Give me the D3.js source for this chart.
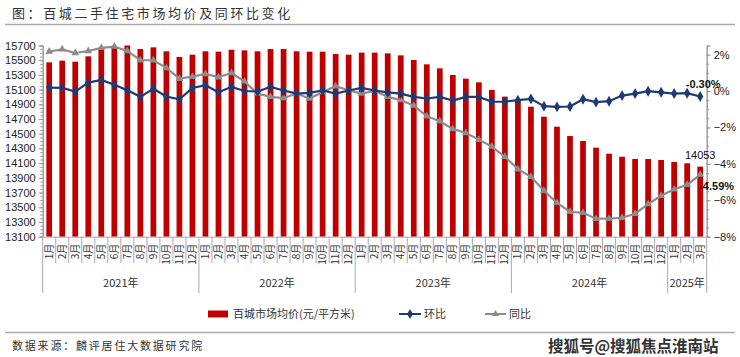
<!DOCTYPE html>
<html><head><meta charset="utf-8">
<script src="https://cdn.jsdelivr.net/npm/d3@7"></script>
<style>
html,body{margin:0;padding:0;background:#fff;}
svg{display:block;}
</style></head>
<body>
<svg id="chart" width="740" height="357"></svg>
<script>
const years = ["2021年","2022年","2023年","2024年","2025年"];
const monthsPerYear = [12,12,12,12,3];
const monthLabels = ["1月","2月","3月","4月","5月","6月","7月","8月","9月","10月","11月","12月"];
const price = [
  15471,15494,15480,15553,15662,15695,15700,15652,15675,15621,15544,15575,
  15621,15616,15643,15634,15621,15652,15652,15621,15616,15616,15584,15575,
  15603,15603,15593,15566,15503,15444,15389,15299,15249,15199,15095,15004,
  14959,14868,14732,14596,14469,14401,14311,14229,14188,14157,14157,14143,
  14116,14098,14053
];
const mom = [
  0.19,0.17,-0.03,0.46,0.61,0.35,0.04,-0.32,0.12,-0.30,-0.45,0.17,
  0.32,-0.07,0.23,0.00,-0.03,0.23,0.03,-0.14,-0.10,0.03,-0.14,0.03,
  0.17,0.03,-0.07,-0.14,-0.32,-0.41,-0.32,-0.52,-0.32,-0.32,-0.59,-0.58,
  -0.50,-0.43,-0.83,-0.87,-0.85,-0.45,-0.61,-0.56,-0.25,-0.14,-0.01,-0.07,
  -0.14,-0.12,-0.30
];
const yoy = [
  2.17,2.29,2.09,2.20,2.37,2.44,2.20,1.69,1.69,1.27,0.68,0.79,
  0.94,0.76,0.99,0.53,-0.14,-0.32,-0.39,-0.14,-0.41,-0.05,0.26,0.04,
  -0.14,0.01,-0.32,-0.50,-0.80,-1.38,-1.66,-2.08,-2.30,-2.67,-3.05,-3.61,
  -4.29,-4.71,-5.48,-6.14,-6.63,-6.69,-7.01,-7.01,-6.96,-6.74,-6.21,-5.75,
  -5.40,-5.15,-4.59
];
const leftTicks = d3.range(13100, 15701, 200);
const rightTicks = [2,0,-2,-4,-6,-8];
const labels = {last:"14053", mom:"-0.30%", yoy:"-4.59%"};
const titleText = "图：百城二手住宅市场均价及同环比变化";
const sourceText = "数据来源：麟评居住大数据研究院";
const watermark = "搜狐号@搜狐焦点淮南站";
const legendNames = ["百城市场均价(元/平方米)","环比","同比"];

// categories
const cats = [];
years.forEach((y,yi)=>{ for(let m=0;m<monthsPerYear[yi];m++) cats.push({year:y, yi, month:monthLabels[m]}); });
const idx = cats.map((c,i)=>i);

const svg = d3.select("#chart");
const L = 42.7, R = 706.7, T = 45.5, B = 236.7;
const font = "'Liberation Sans', Arial, sans-serif";
const cjk = "'Noto Sans CJK SC', sans-serif";

const x = d3.scaleBand().domain(idx).range([L,R]).paddingInner(0.56).paddingOuter(0.28);
const yL = d3.scaleLinear().domain([13100,15700]).range([B,T]);
const yR = d3.scaleLinear().domain([-8,2.5]).range([B,T]);
const cx = i => x(i) + x.bandwidth()/2;
const step = x.step();

// title
svg.append("text").attr("x",12).attr("y",18).text(titleText)
  .attr("font-family",cjk).attr("font-size",13).attr("letter-spacing",2.6).attr("fill","#333");
svg.append("line").attr("x1",5).attr("x2",735).attr("y1",24.5).attr("y2",24.5).attr("stroke","#aaa").attr("stroke-width",1.5);
svg.append("line").attr("x1",5).attr("x2",735).attr("y1",332.5).attr("y2",332.5).attr("stroke","#aaa").attr("stroke-width",1.5);
svg.append("text").attr("x",12).attr("y",350).text(sourceText)
  .attr("font-family",cjk).attr("font-size",11).attr("letter-spacing",1.8).attr("fill","#333");
svg.append("text").attr("x",548).attr("y",352).text(watermark)
  .attr("font-family",cjk).attr("font-size",15.5).attr("font-weight","bold").attr("fill","#333")
  .attr("stroke","#fff").attr("stroke-width",0.6).attr("paint-order","stroke");

// bars
svg.append("g").selectAll("rect").data(price).join("rect")
  .attr("x",(d,i)=>x(i)).attr("width",x.bandwidth())
  .attr("y",d=>yL(d)).attr("height",d=>B-yL(d)).attr("fill","#C00000");

// left axis
const gL = svg.append("g").attr("transform",`translate(${L},0)`)
  .call(d3.axisLeft(yL).tickValues(leftTicks).tickSize(4).tickPadding(3).tickFormat(d3.format("d")));
const gLm = svg.append("g").attr("transform",`translate(${L},0)`)
  .call(d3.axisLeft(yL).tickValues(d3.range(13100,15701,50)).tickSize(2.5).tickFormat(""));
// right axis
const gR = svg.append("g").attr("transform",`translate(${R},0)`)
  .call(d3.axisRight(yR).tickValues(rightTicks).tickSize(4).tickPadding(3).tickFormat(d=>(d<0?"\u2212":"")+Math.abs(d)+"%"));
const gRm = svg.append("g").attr("transform",`translate(${R},0)`)
  .call(d3.axisRight(yR).tickValues(d3.range(-8,2.51,0.5)).tickSize(2.5).tickFormat(""));
[gL,gLm,gR,gRm].forEach(g=>{
  g.select(".domain").attr("stroke","#999");
  g.selectAll(".tick line").attr("stroke","#999");
  g.selectAll("text").attr("font-family",font).attr("font-size",11).attr("fill","#222");
});

// category axis
const gx = svg.append("g");
gx.append("line").attr("x1",L).attr("x2",R).attr("y1",B+0.5).attr("y2",B+0.5).attr("stroke","#aaa");
idx.forEach(i=>{
  const xb = L + i*step;
  const isYear = i===0 || cats[i].yi!==cats[i-1].yi;
  gx.append("line").attr("x1",xb).attr("x2",xb).attr("y1",B).attr("y2",isYear?293:263).attr("stroke","#aaa");
});
gx.append("line").attr("x1",R).attr("x2",R).attr("y1",B).attr("y2",293).attr("stroke","#aaa");
gx.selectAll("text.m").data(cats).join("text").attr("class","m")
  .attr("transform",(d,i)=>`translate(${cx(i)+3.5},${B+7}) rotate(-90)`)
  .attr("text-anchor","end").attr("font-family",cjk).attr("font-size",10).attr("fill","#333")
  .text(d=>d.month);
let start=0;
years.forEach((y,yi)=>{
  const n = monthsPerYear[yi];
  const xm = L + (start + n/2)*step;
  gx.append("text").attr("x",xm).attr("y",287).attr("text-anchor","middle")
    .attr("font-family",cjk).attr("font-size",11).attr("fill","#333").text(y);
  start += n;
});

// lines
const navy = "#1F3A73", gray = "#8C8C8C";
const lineR = d3.line().x((d,i)=>cx(i)).y(d=>yR(d));
svg.append("path").datum(yoy).attr("d",lineR).attr("fill","none").attr("stroke",gray).attr("stroke-width",2.2);
svg.append("g").selectAll("path").data(yoy).join("path")
  .attr("d",d3.symbol(d3.symbolTriangle,26)).attr("transform",(d,i)=>`translate(${cx(i)},${yR(d)})`).attr("fill",gray);
svg.append("path").datum(mom).attr("d",lineR).attr("fill","none").attr("stroke",navy).attr("stroke-width",2.2);
svg.append("g").selectAll("path").data(mom).join("path")
  .attr("d",d3.symbol(d3.symbolDiamond,34)).attr("transform",(d,i)=>`translate(${cx(i)},${yR(d)})`).attr("fill",navy);

// data labels
const li = price.length-1;
svg.append("text").attr("x",cx(li)).attr("y",yL(price[li])-8).attr("text-anchor","middle")
  .attr("font-family",font).attr("font-size",11).attr("fill","#111").text(labels.last);
svg.append("text").attr("x",cx(li)+3).attr("y",yR(mom[li])-8).attr("text-anchor","middle")
  .attr("font-family",font).attr("font-size",11).attr("font-weight","bold").attr("fill","#111").text(labels.mom);
svg.append("text").attr("x",cx(li)-1).attr("y",yR(yoy[li])+15).attr("text-anchor","start")
  .attr("font-family",font).attr("font-size",11).attr("font-weight","bold").attr("fill","#111").text(labels.yoy);

// legend
const lg = svg.append("g").attr("font-family",cjk).attr("font-size",11).attr("fill","#333");
lg.append("rect").attr("x",208).attr("y",310.5).attr("width",20).attr("height",7).attr("fill","#C00000");
lg.append("text").attr("x",233).attr("y",318).text(legendNames[0]);
lg.append("line").attr("x1",399).attr("x2",421).attr("y1",314).attr("y2",314).attr("stroke",navy).attr("stroke-width",2);
lg.append("path").attr("d",d3.symbol(d3.symbolDiamond,30)).attr("transform","translate(410,314)").attr("fill",navy);
lg.append("text").attr("x",424).attr("y",318).text(legendNames[1]);
lg.append("line").attr("x1",485).attr("x2",506).attr("y1",314).attr("y2",314).attr("stroke",gray).attr("stroke-width",2);
lg.append("path").attr("d",d3.symbol(d3.symbolTriangle,22)).attr("transform","translate(495.5,314)").attr("fill",gray);
lg.append("text").attr("x",509).attr("y",318).text(legendNames[2]);
</script>
</body></html>
